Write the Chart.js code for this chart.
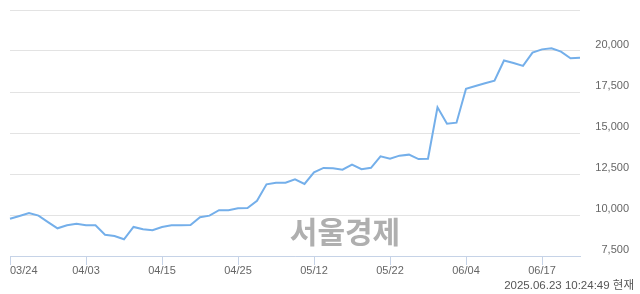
<!DOCTYPE html>
<html>
<head>
<meta charset="utf-8">
<script src="https://cdn.jsdelivr.net/npm/chart.js@4"></script>
<style>
  html, body { margin: 0; padding: 0; background: #fff; }
</style>
</head>
<body>
<canvas id="stockChart" width="640" height="294"></canvas>
<script>
// Trading days shown on the chart
const dates = [
  '03/24', '03/25', '03/26', '03/27', '03/28', '03/31', '04/01', '04/02', '04/03', '04/04',
  '04/07', '04/08', '04/09', '04/10', '04/11', '04/14', '04/15', '04/16', '04/17', '04/18',
  '04/21', '04/22', '04/23', '04/24', '04/25', '04/28', '04/29', '04/30', '05/02', '05/07',
  '05/08', '05/09', '05/12', '05/13', '05/14', '05/15', '05/16', '05/19', '05/20', '05/21',
  '05/22', '05/23', '05/26', '05/27', '05/28', '05/29', '05/30', '06/02', '06/04', '06/05',
  '06/09', '06/10', '06/11', '06/12', '06/13', '06/16', '06/17', '06/18', '06/19', '06/20',
  '06/23'
];

// Closing prices
const prices = [
  9770, 9940, 10120, 9960, 9570, 9190, 9370, 9470, 9370, 9370,
  8800, 8720, 8520, 9270, 9130, 9070, 9270, 9370, 9370, 9390,
  9860, 9960, 10290, 10290, 10410, 10430, 10870, 11870, 11970, 11970,
  12180, 11890, 12600, 12870, 12850, 12760, 13070, 12790, 12880, 13580,
  13430, 13620, 13680, 13410, 13430, 16570, 15570, 15630, 17700, 17870,
  18030, 18190, 19420, 19270, 19090, 19900, 20100, 20170, 19960, 19560,
  19590
];

// Dates that get a label on the x axis
const tickLabels = ['03/24', '04/03', '04/15', '04/25', '05/12', '05/22', '06/04', '06/17'];

const yMin = 7500;
const yMax = 22500;
const yStep = 2500;

const watermark = '서울경제';
const stamp = '2025.06.23 10:24:49 현재';

const labelFont = '11px "Liberation Sans", Arial, sans-serif';

// x labels drawn by hand so the first one stays inside the plot
const xLabels = {
  id: 'xLabels',
  afterDraw(chart) {
    const ctx = chart.ctx;
    const xs = chart.scales.x;
    ctx.save();
    ctx.font = labelFont;
    ctx.fillStyle = '#666';
    ctx.textAlign = 'center';
    ctx.textBaseline = 'middle';
    xs.ticks.forEach((t, i) => {
      const label = dates[t.value];
      const w = ctx.measureText(label).width;
      const cx = Math.max(xs.getPixelForTick(i), chart.chartArea.left + w / 2);
      ctx.fillText(label, cx, 271);
    });
    ctx.restore();
  }
};

// watermark and time stamp
const extras = {
  id: 'extras',
  beforeDatasetsDraw(chart) {
    const ctx = chart.ctx;
    ctx.save();
    ctx.font = 'bold 30px "Noto Sans CJK KR", sans-serif';
    ctx.fillStyle = '#afafaf';
    ctx.textAlign = 'center';
    ctx.textBaseline = 'middle';
    ctx.fillText(watermark, 345, 232);
    ctx.restore();
  },
  afterDraw(chart) {
    const ctx = chart.ctx;
    ctx.save();
    ctx.font = '11.5px "Liberation Sans", "Noto Sans CJK KR", sans-serif';
    ctx.fillStyle = '#555';
    ctx.textAlign = 'right';
    ctx.textBaseline = 'alphabetic';
    ctx.fillText(stamp, 634, 289);
    ctx.restore();
  }
};

const ctx = document.getElementById('stockChart').getContext('2d');
new Chart(ctx, {
  type: 'line',
  data: {
    labels: dates,
    datasets: [{
      data: prices,
      borderColor: '#74afea',
      borderWidth: 2,
      pointRadius: 0,
      tension: 0,
      fill: false
    }]
  },
  options: {
    responsive: false,
    animation: false,
    layout: { padding: { left: 10, top: 10, right: 11, bottom: 0 } },
    plugins: {
      legend: { display: false },
      tooltip: { enabled: false }
    },
    scales: {
      x: {
        grid: {
          drawOnChartArea: false,
          drawTicks: true,
          tickLength: 9,
          color: '#c6d3e7'
        },
        border: { color: '#c6d3e7', width: 1 },
        ticks: { display: false, autoSkip: false },
        afterBuildTicks: scale => {
          scale.ticks = scale.ticks.filter(t => tickLabels.includes(dates[t.value]));
        },
        afterFit: scale => { scale.height = 38; }
      },
      y: {
        position: 'right',
        min: yMin,
        max: yMax,
        grid: { color: '#e3e3e3', drawTicks: false },
        border: { display: false },
        ticks: {
          stepSize: yStep,
          crossAlign: 'far',
          labelOffset: -6,
          padding: 0,
          color: '#666',
          font: { family: '"Liberation Sans", Arial, sans-serif', size: 11 },
          callback: v => (v === yMax ? '' : v.toLocaleString('en-US'))
        },
        afterFit: scale => { scale.width = 49; }
      }
    }
  },
  plugins: [xLabels, extras]
});
</script>
</body>
</html>
